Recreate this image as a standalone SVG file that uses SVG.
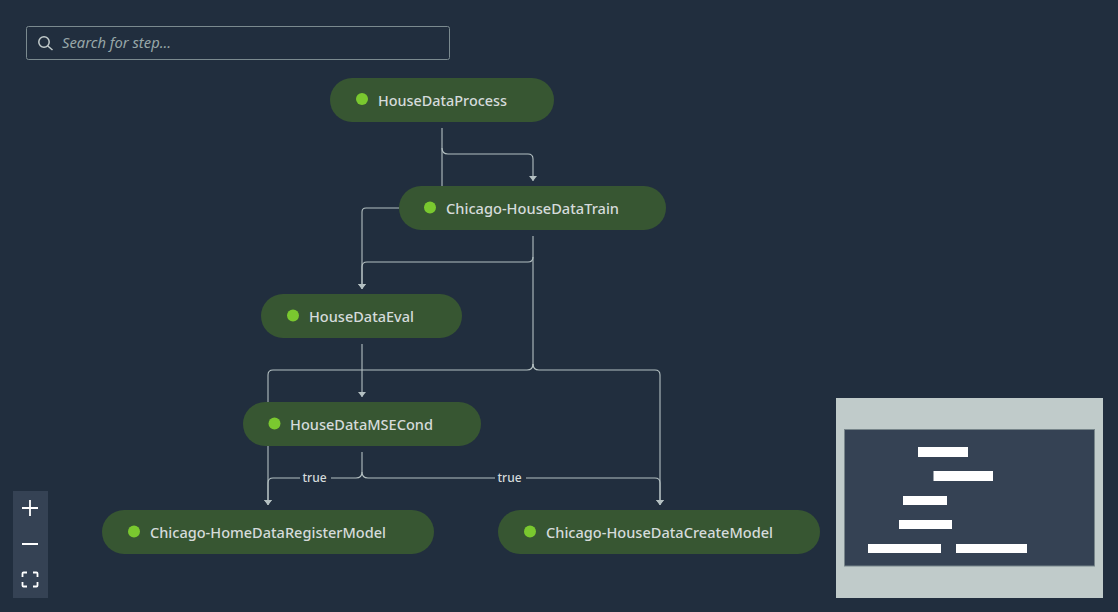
<svg xmlns="http://www.w3.org/2000/svg" width="1118" height="612" viewBox="0 0 1118 612">
<style>
text{font-family:"Noto Sans","Open Sans","Liberation Sans",sans-serif}
.pill{fill:#375632}
.dot{fill:#7ac82f}
.name{font-size:15px;font-weight:500;fill:#d5dbdb}
.edge{fill:none;stroke:#b4c0c2;stroke-width:1.1}
.lbl{font-size:12px;font-weight:500;fill:#d5dbdb;text-anchor:middle}
.bar{fill:#fff}
.ctl{fill:none;stroke:#fff;stroke-width:1.8}
</style>
<defs>
<marker id="arrow" markerUnits="userSpaceOnUse" markerWidth="6" markerHeight="9" refX="5" refY="4" orient="auto"><path d="M0 0L5 4L0 8Z" fill="#b4c0c2"/></marker>
</defs>
<rect width="1118" height="612" fill="#212e3e"/>
<g id="search">
<rect x="26.500" y="26.500" width="423" height="33" rx="2" fill="none" stroke="#7b8a8f" stroke-width="1"/>
<circle cx="44" cy="42" r="5.200" fill="none" stroke="#c3cccc" stroke-width="1.500"/>
<path d="M47.800 46L52.500 50" fill="none" stroke="#c3cccc" stroke-width="1.500"/>
<text x="62" y="48" font-size="15" font-style="italic" fill="#98a7a8" textLength="109" lengthAdjust="spacingAndGlyphs">Search for step...</text>
</g>
<g id="connectors">
<path class="edge" d="M442 128V186"/>
<path class="edge" marker-end="url(#arrow)" d="M442 148Q442 154 448 154H528Q533 154 533 159V181"/>
<path class="edge" marker-end="url(#arrow)" d="M399 208H366Q362 208 362 212V289"/>
<path class="edge" d="M533 236V366"/>
<path class="edge" marker-end="url(#arrow)" d="M533 257Q533 262 528 262H367Q362 262 362 267V289"/>
<path class="edge" marker-end="url(#arrow)" d="M533 364Q533 370 527 370H273Q268 370 268 375V505"/>
<path class="edge" marker-end="url(#arrow)" d="M533 364Q533 370 539 370H655Q660 370 660 375V505"/>
<path class="edge" marker-end="url(#arrow)" d="M362 344V397"/>
<path class="edge" d="M362 452V472Q362 478 356 478H331M300 478H273Q268 478 268 483V505" marker-end="url(#arrow)"/>
<path class="edge" d="M362 472Q362 478 368 478H495M526 478H655Q660 478 660 483V505" marker-end="url(#arrow)"/>
<text class="lbl" x="314.500" y="482">true</text>
<text class="lbl" x="509.500" y="482">true</text>
</g>
<g id="node-process"><rect class="pill" x="330" y="78" width="224" height="44" rx="22"/><circle class="dot" cx="362" cy="99" r="6"/><text class="name" x="378" y="105.500" textLength="129" lengthAdjust="spacingAndGlyphs">HouseDataProcess</text></g>
<g id="node-train"><rect class="pill" x="399" y="186" width="267" height="44" rx="22"/><circle class="dot" cx="430" cy="207.500" r="6"/><text class="name" x="446" y="213.500" textLength="173" lengthAdjust="spacingAndGlyphs">Chicago-HouseDataTrain</text></g>
<g id="node-eval"><rect class="pill" x="261" y="294" width="201" height="44" rx="22"/><circle class="dot" cx="293" cy="315.500" r="6"/><text class="name" x="309" y="321.500" textLength="105" lengthAdjust="spacingAndGlyphs">HouseDataEval</text></g>
<g id="node-cond"><rect class="pill" x="243" y="402" width="238" height="44" rx="22"/><circle class="dot" cx="274.500" cy="423.500" r="6"/><text class="name" x="290" y="429.500" textLength="143" lengthAdjust="spacingAndGlyphs">HouseDataMSECond</text></g>
<g id="node-register"><rect class="pill" x="102" y="510" width="332" height="44" rx="22"/><circle class="dot" cx="134" cy="531.500" r="6"/><text class="name" x="150" y="537.500" textLength="236" lengthAdjust="spacingAndGlyphs">Chicago-HomeDataRegisterModel</text></g>
<g id="node-create"><rect class="pill" x="498" y="510" width="322" height="44" rx="22"/><circle class="dot" cx="530" cy="531.500" r="6"/><text class="name" x="546" y="537.500" textLength="227" lengthAdjust="spacingAndGlyphs">Chicago-HouseDataCreateModel</text></g>
<g id="controls">
<rect x="13" y="491" width="35" height="107" fill="#354254"/>
<path class="ctl" d="M22 508H38M30 500V516M22 544H38"/>
<path class="ctl" stroke-width="1.500" d="M22.500 577V573.500Q22.500 572.500 23.500 572.500H27M33 572.500H36.500Q37.500 572.500 37.500 573.500V577M37.500 582V585.500Q37.500 586.500 36.500 586.500H33M27 586.500H23.500Q22.500 586.500 22.500 585.500V582"/>
</g>
<g id="minimap">
<rect x="836" y="398" width="267" height="200" fill="#c0cbca"/>
<rect x="844.500" y="429.500" width="250" height="136.500" fill="#354254" stroke="#77858a" stroke-width="1"/>
<rect class="bar" x="918" y="447" width="50" height="10"/>
<rect class="bar" x="933.500" y="471" width="59.500" height="10"/>
<rect class="bar" x="903" y="496" width="44" height="9"/>
<rect class="bar" x="899" y="520" width="53" height="9"/>
<rect class="bar" x="868" y="544" width="73" height="9"/>
<rect class="bar" x="956" y="544" width="71" height="9"/>
</g>
</svg>
